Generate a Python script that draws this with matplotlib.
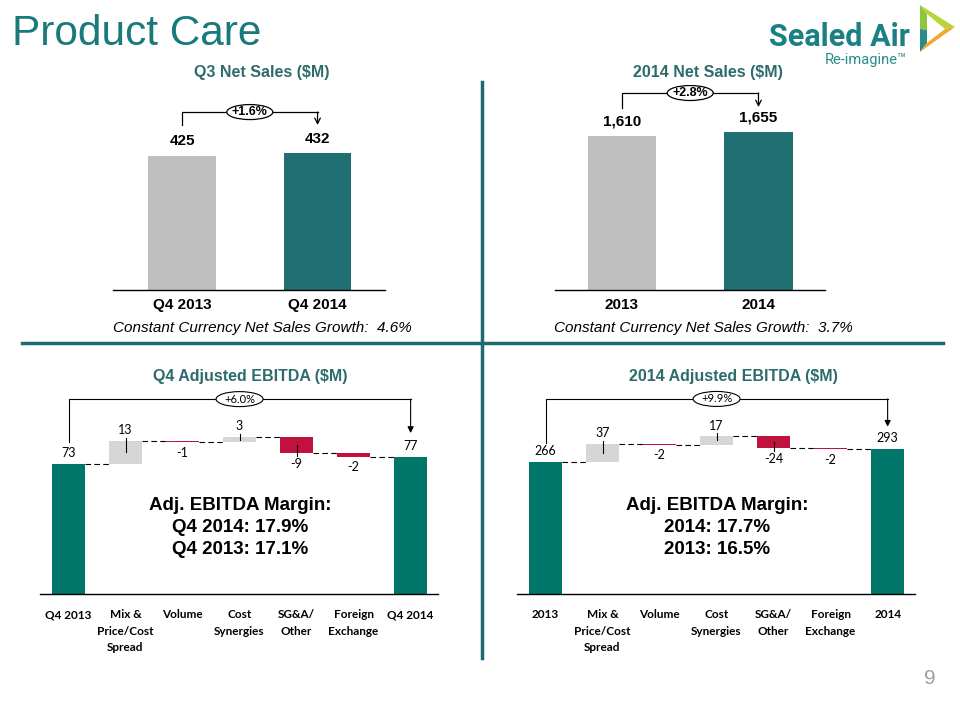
import numpy as np
import matplotlib.pyplot as plt
from matplotlib.patches import Ellipse, Polygon

W, H = 960, 720

# --- data ---
q_labels = ['Q4 2013', 'Q4 2014']
q_sales = [425, 432]
q_growth = '+1.6%'
q_cc_growth = 'Constant Currency Net Sales Growth:  4.6%'

y_labels = ['2013', '2014']
y_sales = [1610, 1655]
y_growth = '+2.8%'
y_cc_growth = 'Constant Currency Net Sales Growth:  3.7%'

steps = ['Mix &\nPrice/Cost\nSpread', 'Volume', 'Cost\nSynergies', 'SG&A/\nOther', 'Foreign\nExchange']

q4_ends = ['Q4 2013', 'Q4 2014']
q4_start, q4_end = 73, 77
q4_deltas = [13, -1, 3, -9, -2]
q4_growth = '+6.0%'
q4_margin = ['Adj. EBITDA Margin:', 'Q4 2014: 17.9%', 'Q4 2013: 17.1%']

fy_ends = ['2013', '2014']
fy_start, fy_end = 266, 293
fy_deltas = [37, -2, 17, -24, -2]
fy_growth = '+9.9%'
fy_margin = ['Adj. EBITDA Margin:', '2014: 17.7%', '2013: 16.5%']

# --- styles ---
TEAL = '#1f6e72'
TEAL2 = '#00766b'
GRAY = '#bfbfbf'
LGRAY = '#d6d6d6'
RED = '#c1123f'
HEAD = '#2e6b6d'
LINE = '#1b6b6f'
ARIAL = 'Liberation Sans'
CAL = 'Lato'

fig = plt.figure(figsize=(9.6, 7.2), dpi=100)


def px_axes(x0, y0, x1, y1):
    return fig.add_axes([x0 / W, 1 - y1 / H, (x1 - x0) / W, (y1 - y0) / H])


def ftext(x, y, s, **kw):
    fig.text(x / W, 1 - y / H, s, **kw)


def clean(ax):
    for s in ['top', 'left', 'right']:
        ax.spines[s].set_visible(False)
    ax.spines['bottom'].set_linewidth(1.0)
    ax.set_yticks([])
    ax.patch.set_alpha(0)


def sales_chart(box, xlim, ymax, labels, values, growth, br):
    ax = px_axes(*box)
    ax.bar([0, 1], values, width=0.5, color=[GRAY, TEAL])
    ax.set_xlim(xlim)
    ax.set_ylim(0, ymax)
    clean(ax)
    ax.set_xticks([0, 1], labels, fontsize=11, fontweight='bold', family=ARIAL)
    ax.tick_params(axis='x', length=0, pad=6)
    for i, v in enumerate(values):
        ax.annotate(f'{v:,}', (i, v), xytext=(0, 10.5), textcoords='offset points',
                    ha='center', va='center', fontsize=11, fontweight='bold', family=ARIAL)
    top, left, right = br
    ax.plot([0, 0, 1], [left, top, top], color='black', lw=0.9)
    ax.annotate('', xy=(1, right), xytext=(1, top),
                arrowprops=dict(arrowstyle='->', lw=0.9, shrinkA=0, shrinkB=0))
    xs = (box[2] - box[0]) / (xlim[1] - xlim[0])
    ys = (box[3] - box[1]) / ymax
    ax.add_patch(Ellipse((0.5, top), 46 / xs, 15 / ys, fc='white', ec='black', lw=0.9, zorder=3))
    ax.text(0.5, top, growth, ha='center', va='center', fontsize=9, fontweight='bold',
            family=ARIAL, zorder=4)
    return ax


def waterfall(box, ymax, ends, start, deltas, end, growth, br):
    ax = px_axes(*box)
    xlim = (-0.5, 6.48)
    ax.set_xlim(xlim)
    ax.set_ylim(0, ymax)
    clean(ax)
    ys = (box[3] - box[1]) / ymax
    xs = (box[2] - box[0]) / (xlim[1] - xlim[0])
    w = 0.58
    d = np.array(deltas)
    cum = start + np.cumsum(d)
    prev = np.concatenate([[start], cum[:-1]])
    bottoms = np.minimum(prev, cum)
    cols = [LGRAY if v > 0 else RED for v in d]
    pos = np.arange(1, len(d) + 1)
    ax.bar([0, len(d) + 1], [start, end], width=w, color=TEAL2)
    ax.bar(pos, np.abs(d), bottom=bottoms, width=w, color=cols)
    levels = np.concatenate([[start], cum])
    for i, lv in enumerate(levels):
        ax.plot([i + w / 2, i + 1 - w / 2], [lv, lv], color='black', lw=0.8, dashes=(5, 3))
    off = 10.5 * 72 / 100
    for x, v in [(0, start), (len(d) + 1, end)]:
        ax.annotate(f'{v}', (x, v), xytext=(0, off), textcoords='offset points',
                    ha='center', va='center', fontsize=9, family=CAL)
    for x, v, p, c in zip(pos, d, prev, cum):
        edge = max(p, c) if v > 0 else min(p, c)
        sgn = 1 if v > 0 else -1
        ax.annotate(f'{v}', (x, edge), xytext=(0, sgn * off), textcoords='offset points',
                    ha='center', va='center', fontsize=9, family=CAL)
        if abs(v) >= 3:
            ax.plot([x, x], [(p + c) / 2, edge + sgn * 3 / ys], color='black', lw=0.8)
    ax.set_xticks(np.arange(len(d) + 2), [ends[0]] + steps + [ends[1]],
                  fontsize=8.5, fontweight='bold', family=CAL, linespacing=1.6, va='top')
    ax.tick_params(axis='x', length=0, pad=11)
    top, left, right = br
    n = len(d) + 1
    ax.plot([0, 0, n], [left, top, top], color='black', lw=0.8)
    ax.annotate('', xy=(n, right), xytext=(n, top),
                arrowprops=dict(arrowstyle='-|>', lw=0.8, color='black', mutation_scale=9,
                                shrinkA=0, shrinkB=0))
    ax.add_patch(Ellipse((3, top), 47 / xs, 15 / ys, fc='white', ec='black', lw=0.8, zorder=3))
    ax.text(3, top, growth, ha='center', va='center', fontsize=8, family=CAL, zorder=4)
    return ax


# --- header ---
ftext(12, 34, 'Product Care', fontsize=30.5, color='#1a7a7a', family=ARIAL, va='center')
ftext(839, 37, 'Sealed Air', fontsize=22, color='#1a8083', family='Roboto', fontweight='bold',
      ha='center', va='center')
ftext(866, 60, 'Re-imagine\u2122', fontsize=10.5, color='#2a8c8c', family='Roboto',
      ha='center', va='center')
sail = [([(920, 5), (927, 14), (927, 30), (920, 29)], '#8cc63e'),
        ([(920, 29), (927, 30), (927, 43), (920, 52)], '#2b8a8a'),
        ([(920, 5), (955, 27), (945, 29), (927, 14)], '#b8d43a'),
        ([(955, 27), (920, 52), (927, 43), (945, 29)], '#f0a830')]
for pts, c in sail:
    fig.patches.append(Polygon([(x / W, 1 - y / H) for x, y in pts], closed=True, fc=c, ec='none',
                               transform=fig.transFigure))

# separators
fig.add_artist(plt.Line2D([22 / W, 943 / W], [1 - 343 / H] * 2, color=LINE, lw=2.5))
fig.add_artist(plt.Line2D([482 / W] * 2, [1 - 82 / H, 1 - 658 / H], color=LINE, lw=2.5))

# --- top charts ---
ftext(262, 72, 'Q3 Net Sales ($M)', fontsize=11.5, fontweight='bold', color=HEAD, family=ARIAL,
      ha='center', va='center')
sales_chart((113, 95, 385, 290), (-0.51, 1.498), 617, q_labels, q_sales, q_growth, (563, 522, 522))
ftext(262, 328, q_cc_growth, fontsize=11, style='italic', family=ARIAL, ha='center', va='center')

ftext(708, 72, '2014 Net Sales ($M)', fontsize=11.5, fontweight='bold', color=HEAD, family=ARIAL,
      ha='center', va='center')
sales_chart((555, 85, 825, 290), (-0.49, 1.487), 2147, y_labels, y_sales, y_growth,
            (2063, 1906, 1916))
ftext(703, 328, y_cc_growth, fontsize=11, style='italic', family=ARIAL, ha='center', va='center')

# --- bottom charts ---
ftext(250, 376, 'Q4 Adjusted EBITDA ($M)', fontsize=11.5, fontweight='bold', color=HEAD,
      family=ARIAL, ha='center', va='center')
waterfall((40, 390, 438, 594), 114.3, q4_ends, q4_start, q4_deltas, q4_end, q4_growth,
          (109.2, 85.3, 90.2))
for yy, s in zip([505, 528, 550], q4_margin):
    ftext(240, yy, s, fontsize=13.5, fontweight='bold', family=ARIAL, ha='center', va='center')

ftext(733, 376, '2014 Adjusted EBITDA ($M)', fontsize=11.5, fontweight='bold', color=HEAD,
      family=ARIAL, ha='center', va='center')
waterfall((517, 390, 915, 594), 411, fy_ends, fy_start, fy_deltas, fy_end, fy_growth,
          (393, 304, 337))
for yy, s in zip([505, 528, 550], fy_margin):
    ftext(717, yy, s, fontsize=13.5, fontweight='bold', family=ARIAL, ha='center', va='center')

ftext(930, 679, '9', fontsize=15, color='#a0a0a0', family=ARIAL, ha='center', va='center')

fig.savefig('out.png', dpi=100, facecolor='white')
